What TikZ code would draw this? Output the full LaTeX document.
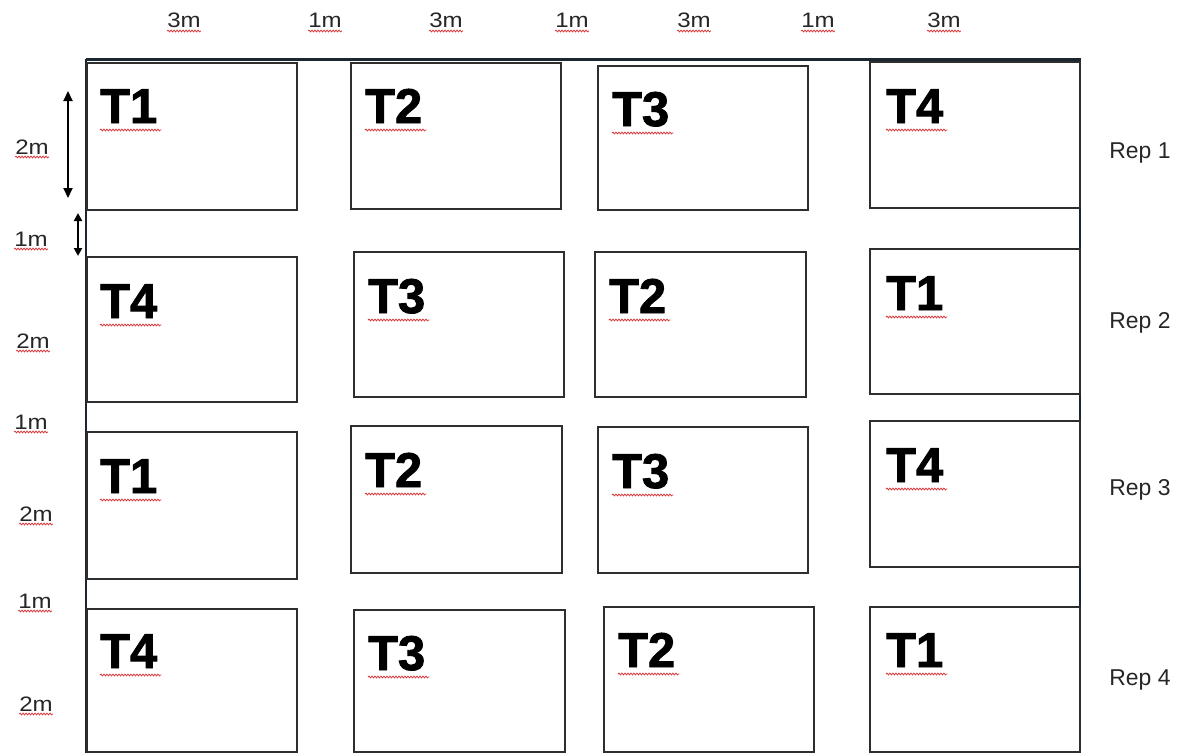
\documentclass[tikz,border=0pt]{standalone}
\usepackage{fontspec}
\setmainfont{Liberation Sans}
\newfontfamily\heavyfont[FakeBold=1.8]{Liberation Sans Bold}
\usepackage{xcolor}
\usepackage{tikz}
\usetikzlibrary{arrows.meta,decorations.pathmorphing}
\definecolor{edge}{HTML}{2E2E2E}
\definecolor{frameblue}{HTML}{1B2631}
\definecolor{squig}{HTML}{D8383A}
\newcommand{\wide}[1]{\scalebox{1.15}[1]{#1}}

\begin{document}
\begin{tikzpicture}[x=1bp,y=-1bp,
  plotbox/.style={draw=edge,line width=1.3bp},
  frame/.style={draw=frameblue,line width=3bp},
  tlabel/.style={inner sep=0,anchor=base west,font=\heavyfont\fontsize{49}{49}\selectfont},
  mlabel/.style={inner sep=0,anchor=base,font=\fontsize{21}{21}\selectfont,text=black!85},
  replabel/.style={inner sep=0,anchor=base,font=\fontsize{23}{23}\selectfont,text=black!85},
  spell/.style={draw=squig,line width=0.8bp,decorate,decoration={snake,amplitude=0.9bp,segment length=3bp}},
  dimarrow/.style={line width=2.2bp,{Triangle[length=10bp,width=9bp]}-{Triangle[length=10bp,width=9bp]}}]
  \useasboundingbox (0,0) rectangle (1185,753);
  % field border (top and left)
  \draw[frame] (86,60) -- (1081,60);
  \draw[frame,line width=2.6bp] (86,59) -- (86,753);
  % right edge between the reps
  \draw[frame,line width=2bp] (1080,208) -- (1080,249);
  \draw[frame,line width=2bp] (1080,394) -- (1080,421);
  \draw[frame,line width=2bp] (1080,567) -- (1080,607);
  % plots, rep 1
  \draw[plotbox] (87,63) rectangle (297,210);
  \draw[plotbox] (351,63) rectangle (561,209);
  \draw[plotbox] (598,66) rectangle (808,210);
  \draw[plotbox] (870,62) rectangle (1080,208);
  % plots, rep 2
  \draw[plotbox] (87,257) rectangle (297,402);
  \draw[plotbox] (354,252) rectangle (564,397);
  \draw[plotbox] (595,252) rectangle (806,397);
  \draw[plotbox] (870,249) rectangle (1080,394);
  % plots, rep 3
  \draw[plotbox] (87,432) rectangle (297,579);
  \draw[plotbox] (351,426) rectangle (562,573);
  \draw[plotbox] (598,427) rectangle (808,573);
  \draw[plotbox] (870,421) rectangle (1080,567);
  % plots, rep 4
  \draw[plotbox] (87,609) rectangle (297,752);
  \draw[plotbox] (354,610) rectangle (565,752);
  \draw[plotbox] (604,607) rectangle (814,752);
  \draw[plotbox] (870,607) rectangle (1080,752);
  % treatment labels
  \node[tlabel] (p11) at (100,123) {T1};
  \node[tlabel] (p12) at (365,123) {T2};
  \node[tlabel] (p13) at (612,126) {T3};
  \node[tlabel] (p14) at (886,123) {T4};
  \node[tlabel] (p21) at (100,318) {T4};
  \node[tlabel] (p22) at (368,313) {T3};
  \node[tlabel] (p23) at (609,313) {T2};
  \node[tlabel] (p24) at (886,310) {T1};
  \node[tlabel] (p31) at (100,493) {T1};
  \node[tlabel] (p32) at (365,487) {T2};
  \node[tlabel] (p33) at (612,488) {T3};
  \node[tlabel] (p34) at (886,482) {T4};
  \node[tlabel] (p41) at (100,668) {T4};
  \node[tlabel] (p42) at (368,670) {T3};
  \node[tlabel] (p43) at (618,667) {T2};
  \node[tlabel] (p44) at (886,667) {T1};
  % widths along the top
  \node[mlabel] (w1) at (184,28) {\wide{3m}};
  \node[mlabel] (w2) at (325,28) {\wide{1m}};
  \node[mlabel] (w3) at (446,28) {\wide{3m}};
  \node[mlabel] (w4) at (572,28) {\wide{1m}};
  \node[mlabel] (w5) at (694,28) {\wide{3m}};
  \node[mlabel] (w6) at (818,28) {\wide{1m}};
  \node[mlabel] (w7) at (944,28) {\wide{3m}};
  % heights down the left
  \node[mlabel] (h1) at (32,154) {\wide{2m}};
  \node[mlabel] (h2) at (31,246) {\wide{1m}};
  \node[mlabel] (h3) at (33,348) {\wide{2m}};
  \node[mlabel] (h4) at (31,429) {\wide{1m}};
  \node[mlabel] (h5) at (36,521) {\wide{2m}};
  \node[mlabel] (h6) at (35,608) {\wide{1m}};
  \node[mlabel] (h7) at (36,711) {\wide{2m}};
  % dimension arrows
  \coordinate (d1t) at (68,91);
  \coordinate (d1b) at (68,198);
  \coordinate (d2t) at (78,213);
  \coordinate (d2b) at (78,256);
  \draw[dimarrow] (d1t) -- (d1b);
  \draw[dimarrow,{Triangle[length=8bp,width=8bp]}-{Triangle[length=8bp,width=8bp]}] (d2t) -- (d2b);
  % reps
  \node[replabel] (rep1) at (1140,158) {Rep 1};
  \node[replabel] (rep2) at (1140,328) {Rep 2};
  \node[replabel] (rep3) at (1140,495) {Rep 3};
  \node[replabel] (rep4) at (1140,685) {Rep 4};
  % spell-check squiggles
  \foreach \n in {p11,p12,p13,p14,p21,p22,p23,p24,p31,p32,p33,p34,p41,p42,p43,p44}
    \draw[spell] ([yshift=-7bp]\n.base west) -- ([yshift=-7bp,xshift=4bp]\n.base east);
  \foreach \n in {w1,w2,w3,w4,w5,w6,w7,h1,h2,h3,h4,h5,h6,h7}
    \draw[spell] ([yshift=-3bp]\n.base west) -- ([yshift=-3bp]\n.base east);
\end{tikzpicture}
\end{document}
